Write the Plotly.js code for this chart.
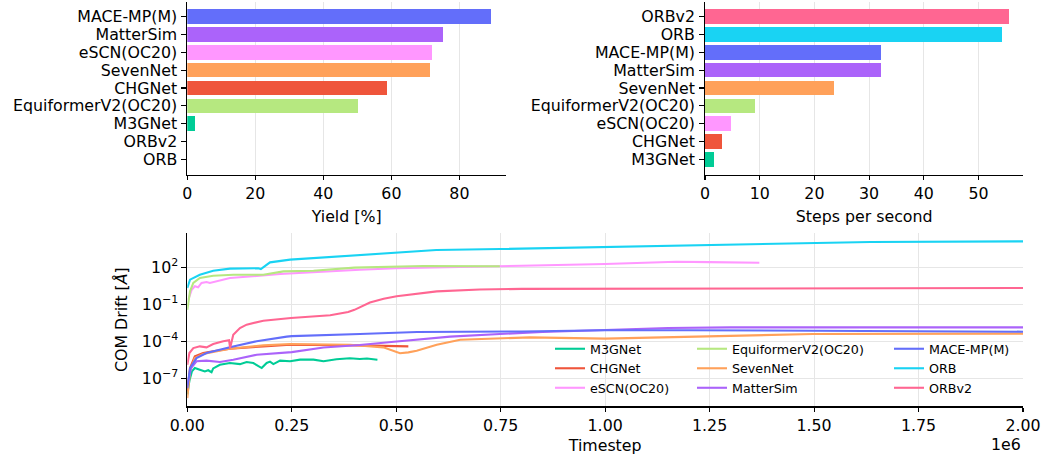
<!DOCTYPE html>
<html>
<head>
<meta charset="utf-8">
<script src="https://cdn.plot.ly/plotly-3.0.1.min.js"></script>
<style>
  html, body { margin: 0; padding: 0; background: #fff; }
  #chart { width: 1042px; height: 455px; }
</style>
</head>
<body>
<div id="chart"></div>
<script>
// ---- Model colours ----
const modelColors = {
  'M3GNet': '#00CC96',
  'CHGNet': '#EF553B',
  'eSCN(OC20)': '#FF97FF',
  'EquiformerV2(OC20)': '#B6E880',
  'SevenNet': '#FFA15A',
  'MatterSim': '#AB63FA',
  'MACE-MP(M)': '#636EFA',
  'ORB': '#19D3F3',
  'ORBv2': '#FF6692'
};

// ---- Yield of stable runs [%] ----
const yieldModels = ['MACE-MP(M)', 'MatterSim', 'eSCN(OC20)', 'SevenNet', 'CHGNet',
                     'EquiformerV2(OC20)', 'M3GNet', 'ORBv2', 'ORB'];
const yieldValues = [89.2, 75.1, 72.0, 71.4, 58.6, 50.1, 2.3, 0, 0];

// ---- Throughput [steps per second] ----
const speedModels = ['ORBv2', 'ORB', 'MACE-MP(M)', 'MatterSim', 'SevenNet',
                     'EquiformerV2(OC20)', 'eSCN(OC20)', 'CHGNet', 'M3GNet'];
const speedValues = [55.6, 54.3, 32.1, 32.1, 23.5, 9.15, 4.7, 3.05, 1.65];

// ---- Centre-of-mass drift [Å] versus timestep ----
const m3gnetSteps = [0, 5000, 11000, 18000, 30000, 42000, 50000, 58000, 62000, 78000, 102000,
  126000, 142000, 158000, 178000, 190000, 198000, 206000, 222000, 246000, 270000, 302000,
  326000, 357000, 389000, 413000, 430000, 455000];
const m3gnetDrift = [5.0e-9, 6.3e-8, 3.6e-7, 6.8e-7, 5.0e-7, 3.6e-7, 4.5e-7, 3.1e-7, 6.3e-7,
  1.26e-6, 1.74e-6, 1.41e-6, 2.09e-6, 1.74e-6, 6.8e-7, 1.74e-6, 2.24e-6, 1.41e-6, 2.69e-6,
  2.40e-6, 3.24e-6, 3.24e-6, 2.40e-6, 3.55e-6, 4.17e-6, 3.63e-6, 3.98e-6, 3.24e-6];

const chgnetSteps = [0, 6500, 18000, 38000, 62000, 102000, 182000, 246000, 413000, 529000];
const chgnetDrift = [8.7e-9, 6.8e-7, 6.0e-6, 1.12e-5, 1.55e-5, 2.51e-5, 3.89e-5, 5.25e-5,
  4.68e-5, 3.89e-5];

const escnSteps = [2400, 10500, 18000, 26000, 34000, 46000, 54000, 102000, 222000, 300000,
  413000, 500000, 748000, 800000, 1000000, 1170000, 1250000, 1369000];
const escnDrift = [0.234, 1.51, 2.88, 2.40, 5.37, 6.46, 5.37, 13.5, 28.2, 39.8, 63.1, 83.2,
  112, 132, 186, 282, 263, 234];

const equiformerSteps = [0, 6500, 14400, 30000, 62000, 110000, 182000, 230000, 302000,
  400000, 565000, 748000];
const equiformerDrift = [0.036, 1.12, 5.37, 13.5, 20.9, 25.1, 25.1, 46.8, 52.5, 93.3, 126, 120];

const sevennetSteps = [0, 6500, 18000, 38000, 62000, 102000, 182000, 246000, 389000, 469000,
  509000, 529000, 549000, 597000, 653000, 748000, 820000, 1000000, 1227000, 1497000, 2000000];
const sevennetDrift = [2.5e-9, 3.6e-7, 4.37e-6, 9.3e-6, 1.35e-5, 2.51e-5, 4.68e-5, 6.0e-5,
  5.25e-5, 3.24e-5, 1.07e-5, 1.26e-5, 1.74e-5, 5.25e-5, 1.35e-4, 1.86e-4, 2.09e-4, 1.66e-4,
  2.51e-4, 3.89e-4, 4.17e-4];

const mattersimSteps = [0, 9000, 22000, 46000, 78000, 110000, 166000, 222000, 250000, 326000,
  413000, 501000, 629000, 748000, 850000, 1000000, 1150000, 1300000, 2000000];
const mattersimDrift = [3.0e-8, 6.8e-7, 2.40e-6, 2.69e-6, 2.09e-6, 3.24e-6, 8.1e-6, 1.12e-5,
  1.32e-5, 3.16e-5, 5.0e-5, 9.5e-5, 2.40e-4, 3.89e-4, 5.6e-4, 8.3e-4, 1.20e-3, 1.35e-3, 1.35e-3];

const maceSteps = [0, 6500, 22000, 46000, 102000, 166000, 238000, 250000, 413000, 550000,
  800000, 1000000, 1200000, 1600000, 2000000];
const maceDrift = [1.58e-8, 6.8e-7, 4.37e-6, 1.12e-5, 3.24e-5, 1.0e-4, 2.40e-4, 2.63e-4,
  3.89e-4, 5.6e-4, 6.3e-4, 7.9e-4, 7.9e-4, 6.6e-4, 6.0e-4];

const orbSteps = [0, 6500, 30000, 62000, 102000, 170000, 176000, 198000, 246000, 302000,
  413000, 510000, 596000, 748000, 1002000, 1227000, 1497000, 1635000, 2000000];
const orbDrift = [2.09, 10, 25.1, 52.5, 77.6, 83.2, 72.4, 251, 417, 562, 1047, 1738, 2512,
  3020, 4467, 6761, 9333, 11220, 12590];

const orbv2Steps = [0, 5000, 14400, 30000, 46000, 62000, 86000, 100000, 102500, 110000,
  126000, 142000, 182000, 248000, 342000, 385000, 400000, 415000, 437000, 470000, 501000,
  597000, 700000, 800000, 1000000, 1500000, 2000000];
const orbv2Drift = [1.26e-6, 1.12e-5, 2.82e-5, 3.89e-5, 3.24e-5, 6.0e-5, 1.0e-4, 1.20e-4,
  2.82e-5, 3.39e-4, 1.20e-3, 2.24e-3, 4.68e-3, 7.76e-3, 1.29e-2, 2.40e-2, 3.55e-2, 6.31e-2,
  0.141, 0.282, 0.447, 1.12, 1.58, 1.78, 1.86, 2.04, 2.09];

// Series in drawing order, each assigned to one of three legend columns
const driftSeries = [
  { name: 'M3GNet', x: m3gnetSteps, y: m3gnetDrift, legend: 'legend' },
  { name: 'CHGNet', x: chgnetSteps, y: chgnetDrift, legend: 'legend' },
  { name: 'eSCN(OC20)', x: escnSteps, y: escnDrift, legend: 'legend' },
  { name: 'EquiformerV2(OC20)', x: equiformerSteps, y: equiformerDrift, legend: 'legend2' },
  { name: 'SevenNet', x: sevennetSteps, y: sevennetDrift, legend: 'legend2' },
  { name: 'MatterSim', x: mattersimSteps, y: mattersimDrift, legend: 'legend2' },
  { name: 'MACE-MP(M)', x: maceSteps, y: maceDrift, legend: 'legend3' },
  { name: 'ORB', x: orbSteps, y: orbDrift, legend: 'legend3' },
  { name: 'ORBv2', x: orbv2Steps, y: orbv2Drift, legend: 'legend3' }
];

const timeTicks = [0, 250000, 500000, 750000, 1000000, 1250000, 1500000, 1750000, 2000000];
const driftTicks = [1e-7, 1e-4, 1e-1, 1e2];

// ---- Geometry helpers (pixels -> paper fractions) ----
const W = 1042, H = 455;
const fx = px => px / W;
const fy = py => 1 - py / H;

const FONT = 'DejaVu Sans, Verdana, sans-serif';
const FS = 15.8;
const GRID = '#e6e6e6';

const axisBase = {
  showline: true, linecolor: '#000', linewidth: 1.2,
  ticks: 'outside', ticklen: 4.7, tickwidth: 1.1, tickcolor: '#000',
  zeroline: false, gridcolor: GRID, gridwidth: 1,
  tickfont: { family: FONT, size: FS, color: '#000' },
  fixedrange: true
};

const traces = [];

traces.push({
  type: 'bar', orientation: 'h',
  x: yieldValues, y: yieldModels,
  marker: { color: yieldModels.map(m => modelColors[m]), line: { width: 0 } },
  width: 0.82, xaxis: 'x', yaxis: 'y', showlegend: false, hoverinfo: 'skip'
});

traces.push({
  type: 'bar', orientation: 'h',
  x: speedValues, y: speedModels,
  marker: { color: speedModels.map(m => modelColors[m]), line: { width: 0 } },
  width: 0.82, xaxis: 'x2', yaxis: 'y2', showlegend: false, hoverinfo: 'skip'
});

driftSeries.forEach(s => {
  traces.push({
    type: 'scatter', mode: 'lines',
    name: s.name, x: s.x, y: s.y,
    line: { color: modelColors[s.name], width: 2.1 },
    xaxis: 'x3', yaxis: 'y3', legend: s.legend, hoverinfo: 'skip'
  });
});

const legendBase = {
  bgcolor: 'rgba(0,0,0,0)', borderwidth: 0,
  font: { family: FONT, size: 12.7, color: '#000' },
  xanchor: 'left', yanchor: 'top', tracegroupgap: 0,
  itemclick: false, itemdoubleclick: false
};

const layout = {
  width: W, height: H,
  margin: { l: 0, r: 0, t: 0, b: 0 },
  paper_bgcolor: '#fff', plot_bgcolor: '#fff',
  font: { family: FONT, size: FS, color: '#000' },
  bargap: 0,
  xaxis: Object.assign({}, axisBase, {
    domain: [fx(187.3), fx(506)], anchor: 'y',
    range: [0, 93.7], tickvals: [0, 20, 40, 60, 80], showgrid: true,
    title: { text: 'Yield [%]', font: { family: FONT, size: FS, color: '#000' }, standoff: 8 }
  }),
  yaxis: Object.assign({}, axisBase, {
    domain: [fy(174.5), fy(1.5)], anchor: 'x',
    type: 'category', categoryorder: 'array', categoryarray: yieldModels,
    tickmode: 'array', tickvals: yieldModels, ticktext: yieldModels,
    ticklabelstandoff: 1,
    range: [8.84, -0.84], showgrid: false
  }),
  xaxis2: Object.assign({}, axisBase, {
    domain: [fx(705), fx(1023.3)], anchor: 'y2',
    range: [0, 58.2], tickvals: [0, 10, 20, 30, 40, 50], showgrid: true,
    title: { text: 'Steps per second', font: { family: FONT, size: FS, color: '#000' }, standoff: 8 }
  }),
  yaxis2: Object.assign({}, axisBase, {
    domain: [fy(174.5), fy(1.5)], anchor: 'x2',
    type: 'category', categoryorder: 'array', categoryarray: speedModels,
    tickmode: 'array', tickvals: speedModels, ticktext: speedModels,
    ticklabelstandoff: 1,
    range: [8.84, -0.84], showgrid: false
  }),
  xaxis3: Object.assign({}, axisBase, {
    domain: [fx(187.3), fx(1023)], anchor: 'y3',
    range: [0, 2000000], tickvals: timeTicks,
    ticktext: timeTicks.map(v => (v / 1e6).toFixed(2)), showgrid: true,
    title: { text: 'Timestep', font: { family: FONT, size: FS, color: '#000' }, standoff: 8 }
  }),
  yaxis3: Object.assign({}, axisBase, {
    domain: [fy(406.3), fy(233)], anchor: 'x3',
    type: 'log', range: [-9.27, 4.78], tickvals: driftTicks,
    ticktext: driftTicks.map(v => '10<sup>' + String(Math.round(Math.log10(v))).replace('-', '\u2212') + '</sup>'),
    showgrid: true,
    title: { text: 'COM Drift [<i>Å</i>]', font: { family: FONT, size: FS, color: '#000' }, standoff: 10 }
  }),
  legend: Object.assign({}, legendBase, { x: fx(550), y: fy(334) }),
  legend2: Object.assign({}, legendBase, { x: fx(692), y: fy(334) }),
  legend3: Object.assign({}, legendBase, { x: fx(889), y: fy(334) }),
  annotations: [{
    text: '1e6', xref: 'paper', yref: 'paper',
    x: fx(1023), y: fy(444), xanchor: 'right', yanchor: 'middle',
    showarrow: false, font: { family: FONT, size: FS, color: '#000' }
  }]
};

Plotly.newPlot('chart', traces, layout, { staticPlot: true, displayModeBar: false });
</script>
</body>
</html>
